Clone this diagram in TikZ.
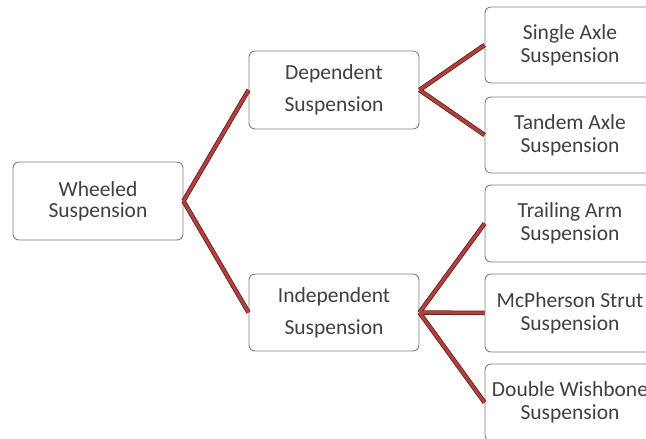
\documentclass[tikz,border=0pt]{standalone}
\usepackage{fontspec}
\setmainfont{Carlito}
\definecolor{boxline}{HTML}{7F7F7F}
\definecolor{txt}{HTML}{404040}
\definecolor{linkred}{HTML}{B23E3E}
\definecolor{linkdark}{HTML}{5A1C1C}
\begin{document}
\begin{tikzpicture}[x=1pt,y=-1pt,
  box/.style={draw=boxline, line width=0.9pt, rounded corners=6pt, fill=white,
    minimum width=170pt, align=center, text=txt, inner sep=0pt,
    font=\fontsize{21.5}{21}\selectfont},
  midbox/.style={box, font=\fontsize{21.5}{32}\selectfont},
  leafbox/.style={box, font=\fontsize{21.5}{23}\selectfont},
  link/.style={line width=4.5pt, draw=linkdark},
  linkin/.style={line width=3pt, draw=linkred}]
\useasboundingbox (0,0) rectangle (646,439);
\node[box, minimum height=78pt] (wheel) at (98,201) {Wheeled\\Suspension};
\node[midbox, minimum height=78pt] (dep) at (334,90) {Dependent\\Suspension};
\node[midbox, minimum height=77pt] (ind) at (334,312.5) {Independent\\Suspension};
\node[leafbox, minimum height=76pt] (single) at (570,45) {Single Axle\\Suspension};
\node[leafbox, minimum height=76pt] (tandem) at (570,135) {Tandem Axle\\Suspension};
\node[leafbox, minimum height=77pt] (trail) at (570,223.5) {Trailing Arm\\Suspension};
\node[leafbox, minimum height=78pt] (mcph) at (570,313) {McPherson Strut\\Suspension};
\node[leafbox, minimum height=77pt] (dbl) at (570,402.5) {Double Wishbone\\Suspension};
\foreach \a/\b in {wheel/dep, wheel/ind, dep/single, dep/tandem, ind/trail, ind/mcph, ind/dbl}{
  \draw[link] (\a.east) -- (\b.west);
}
\foreach \a/\b in {wheel/dep, wheel/ind, dep/single, dep/tandem, ind/trail, ind/mcph, ind/dbl}{
  \draw[linkin] (\a.east) -- (\b.west);
}
\end{tikzpicture}
\end{document}
